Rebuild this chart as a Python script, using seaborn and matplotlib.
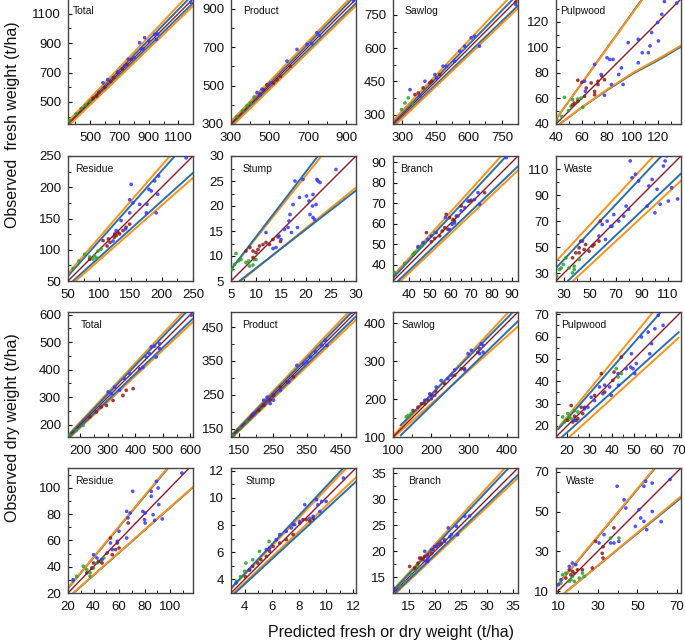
import pandas as pd
import seaborn as sns
import matplotlib.pyplot as plt
from matplotlib.ticker import MultipleLocator

sns.set_theme(style="ticks")
plt.rcParams['font.family'] = ['Liberation Sans', 'DejaVu Sans']

# === data: (predicted, observed) ===
# --- fresh weight ---
total_f_green = [(362, 372), (405, 420), (440, 455), (470, 478), (500, 505)]
total_f_red = [(520, 525), (545, 540), (560, 565), (600, 598), (640, 640), (660, 665), (690, 700),
               (720, 725), (750, 755), (780, 790)]
total_f_blue = [(588, 630), (620, 652), (690, 705), (735, 745), (760, 790), (800, 800), (837, 902),
                (849, 860), (860, 860), (871, 937), (900, 915), (940, 960), (951, 925), (960, 962),
                (1185, 1178)]
total_f_bands = [("blue", [350, 1170], [358, 1200]), ("blue", [350, 1200], [342, 1172]),
                 ("orange", [350, 1143], [367, 1200]), ("orange", [350, 1200], [335, 1152])]

product_f_green = [(330, 338), (360, 368), (383, 394), (400, 408), (420, 440)]
product_f_red = [(450, 455), (470, 478), (487, 504), (521, 513), (539, 530), (557, 548), (608, 600)]
product_f_blue = [(435, 464), (452, 452), (461, 481), (504, 513), (591, 627), (643, 688), (695, 714),
                  (720, 718), (747, 775), (760, 760), (938, 941)]
product_f_bands = [("blue", [300, 930], [308, 950]), ("blue", [300, 950], [292, 928]),
                   ("orange", [300, 915], [315, 950]), ("orange", [300, 950], [284, 915])]

sawlog_f_green = [(297, 323), (312, 353), (327, 376), (345, 350)]
sawlog_f_red = [(357, 391), (372, 398), (394, 421), (424, 443), (432, 451), (469, 481), (812, 808)]
sawlog_f_blue = [(335, 413), (380, 385), (402, 451), (447, 481), (454, 466), (484, 519), (499, 519),
                 (536, 541), (559, 587), (581, 609), (611, 647), (626, 654), (648, 609), (812, 797)]
sawlog_f_bands = [("blue", [260, 798], [268, 820]), ("blue", [260, 820], [252, 790]),
                  ("orange", [260, 775], [275, 820]), ("orange", [260, 820], [245, 778])]

pulp_f_green = [(40.8, 43.3), (44.5, 46), (46.6, 60.9), (49.7, 50.4), (51.8, 53.8), (53, 59),
                (57, 59.6), (59.7, 60.3), (61, 53)]
pulp_f_red = [(53, 55), (54.4, 56.4), (57.1, 57.7), (57.1, 74.3), (60.3, 72.7), (62.4, 61.7),
              (63.7, 68.2), (67.6, 72.2), (70.3, 65.5), (70.3, 63), (72.9, 73.5), (72.9, 70.9),
              (76, 77.5), (78, 74.7)]
pulp_f_blue = [(62.4, 73.5), (63, 65.6), (70.3, 86.7), (75.5, 78.8), (78, 62.5), (80, 92), (82.1, 90.6),
               (83.4, 70.9), (84.7, 90.6), (89.2, 78.8), (91.3, 84), (92.6, 71), (96.6, 103.8),
               (104.5, 106.4), (104.5, 88), (107.6, 95.9), (112.4, 95.9), (113.7, 101.2), (115, 111.7),
               (119.7, 119.6), (120.3, 105.1), (123, 126), (125, 136), (134.7, 134.8)]
pulp_f_bands = [("blue", [40, 107.6], [43.8, 138]),
                ("blue", [43, 60, 80, 100, 120, 138], [40, 52.8, 66.5, 79.3, 90, 100.5]),
                ("orange", [40, 108], [44, 138]),
                ("orange", [43, 60, 80, 100, 120, 138], [40, 53, 67, 80, 91, 101.5])]

residue_f_green = [(58, 70), (67.6, 82), (76.7, 92.7), (84.7, 88.5), (90, 85), (92.7, 90), (95.5, 87),
                   (98, 98), (103, 101)]
residue_f_red = [(84.7, 84.7), (106, 114.7), (112.5, 106), (114.7, 117.3), (117.3, 111.7), (124, 119.7),
                 (124.7, 125.3), (127.3, 122.7), (130, 127.7), (132.7, 125.3), (138, 130.7), (143, 136),
                 (148.7, 141)]
residue_f_blue = [(122, 114), (127, 130.7), (135, 146.7), (142, 133.3), (148.7, 159), (148.7, 180),
                  (151, 204.7), (154, 175), (164.7, 172.7), (175.3, 159), (176.4, 172.7), (179.6, 196.7),
                  (183.3, 194), (188.7, 210), (191, 159), (193.6, 188.7), (195, 218), (239, 247)]
residue_f_bands = [("blue", [50, 221], [58, 250]), ("blue", [58, 250], [50, 223]),
                   ("orange", [50, 213], [62, 250]), ("orange", [62, 250], [50, 215])]

stump_f_green = [(5.2, 7.3), (5.7, 8.3), (6, 10.5), (6.5, 9), (7, 9.3), (8, 8.7), (8.5, 9), (8.7, 8),
                 (9.4, 8.2), (9.7, 9.3), (10, 9.3)]
stump_f_red = [(8, 11), (8.8, 11.7), (9.4, 11), (9.4, 9.7), (10, 10.7), (10.4, 11.3), (10.7, 12),
               (11.4, 12.3), (12, 12.7), (12.7, 12.3), (13.4, 13.3), (14.4, 13.8), (14.9, 12.9)]
stump_f_blue = [(12, 14.7), (13.4, 11.5), (14, 11.7), (14.6, 14), (15, 13.3), (15.7, 15.3), (16.4, 15.7),
                (16.6, 17), (16.8, 18.3), (17.1, 14.7), (17.4, 20.3), (17.8, 25), (18.3, 15.7),
                (18.7, 21.7), (19.4, 25.3), (20.1, 22), (20.6, 21), (20.8, 18.3), (21.3, 20), (21.4, 22.3),
                (21.4, 17.7), (21.7, 17.3), (22, 20.3), (22.2, 25.3), (22.4, 25), (22.8, 24.7), (26, 27.3)]
stump_f_bands = [("orange", [5, 23.1], [7.3, 30]), ("orange", [7, 30], [5, 23.7]),
                 ("blue", [5, 22.4], [7.3, 30]), ("blue", [6.7, 30], [5, 23.1])]

branch_f_green = [(32.8, 36.1), (37.7, 40.5), (41.8, 45), (42.6, 45.8), (44.2, 48.3), (46, 49),
                  (47.4, 50.7), (52.3, 55.6), (61.3, 61.3)]
branch_f_red = [(48.3, 55.6), (50.7, 51.2), (52.3, 52.8), (54.8, 54), (56, 56.4), (57.2, 58), (58, 64.5),
                (58.8, 57.2), (59.6, 62.9), (61.3, 62), (62, 61.3), (62.9, 63.7), (65.3, 68.6), (69.4, 71),
                (70.2, 71.4), (76.7, 75.1)]
branch_f_blue = [(44.2, 48.8), (46.6, 50.7), (49, 52.3), (50.7, 54), (53.1, 55.6), (57.6, 63),
                 (59.6, 57.2), (60.8, 59.7), (62, 60.3), (63.7, 63.7), (65.3, 66.2), (67, 67.8),
                 (68.6, 71), (71.8, 71.8), (73.5, 75.1), (74.3, 69.4), (87.3, 92.2)]
branch_f_bands = [("orange", [32, 84.8], [34.5, 93]), ("orange", [35.7, 93], [32, 86]),
                  ("blue", [32, 87.3], [33.5, 93]), ("blue", [34.4, 93], [32, 88])]

waste_f_green = [(24.5, 27.7), (26.5, 32.8), (28, 34), (29.6, 36.7), (31.6, 41.8), (34, 34),
                 (36.7, 30.3), (38, 35.4), (38, 32.8), (41.8, 40.5)]
waste_f_red = [(36.7, 41.8), (39.2, 45.6), (41.8, 49.5), (41.8, 45.6), (43, 54.6), (45.6, 48.2),
               (46.8, 52), (49.4, 46.9), (52, 50.8), (53.2, 52), (57, 54.6), (58, 70)]
waste_f_blue = [(44.3, 54.6), (57, 58.5), (59.5, 67.4), (62, 55.9), (63.3, 70), (66, 66), (67, 66),
                (68.4, 75), (72.2, 70), (76, 73.8), (77.8, 81.5), (79.8, 79), (81, 116.2), (82.4, 103.3),
                (85, 106), (87.5, 100.8), (94, 81.5), (95.3, 97), (97.8, 102), (100, 76.4), (101.6, 94.4),
                (104, 83), (106.5, 112.3), (107.8, 116.2), (109, 120), (110.3, 85.4), (112.8, 95.6),
                (117.4, 87)]
waste_f_bands = [("orange", [24, 99], [39, 120]), ("orange", [37, 120], [24, 101]),
                 ("blue", [24, 105], [34, 120]), ("blue", [33, 120], [24, 106.5])]

# --- dry weight ---
total_d_green = [(161, 163), (185, 179), (210, 197)]
total_d_red = [(234, 228), (258, 246), (276, 264), (295, 270), (319, 288), (355, 306), (367, 325),
               (392, 331)]
total_d_blue = [(301, 319), (313, 312), (325, 337), (343, 325), (361, 367), (380, 385), (416, 403),
                (428, 409), (440, 446), (452, 458), (458, 483), (470, 486), (476, 446), (488, 495),
                (488, 477), (604, 598)]
total_d_bands = [("orange", [155, 574], [162, 610]), ("orange", [155, 610], [147, 574]),
                 ("blue", [155, 586], [159, 610]), ("blue", [155, 610], [150, 586])]

product_d_green = [(133, 130), (153, 150), (172, 170)]
product_d_red = [(187, 189), (207, 204), (222, 219), (241, 234), (251, 248), (271, 273), (291, 288),
                 (310, 303)]
product_d_blue = [(192, 194), (222, 234), (232, 243), (241, 224), (251, 234), (271, 263), (296, 288),
                  (320, 337), (340, 342), (350, 347), (360, 362), (375, 377), (394, 396), (404, 411),
                  (409, 396), (483, 495)]
product_d_bands = [("orange", [125, 473], [130, 495]), ("orange", [125, 495], [120, 472]),
                   ("blue", [125, 483], [128, 495]), ("blue", [125, 495], [122, 482])]

sawlog_d_green = [(135, 153), (140, 157), (148, 162)]
sawlog_d_red = [(153, 170), (166, 179), (175, 188), (184, 188), (192, 197), (201, 210), (214, 219),
                (236, 241), (263, 263), (280, 280), (289, 280), (324, 324)]
sawlog_d_blue = [(184, 197), (197, 214), (201, 201), (210, 210), (214, 232), (227, 249), (245, 254),
                 (254, 263), (263, 277), (289, 277), (298, 320), (307, 329), (329, 333), (329, 320),
                 (333, 346), (338, 342), (338, 324)]
sawlog_d_bands = [("orange", [100, 405], [103, 430]), ("orange", [103, 430], [100, 392]),
                  ("blue", [120, 417], [131, 430]), ("blue", [120, 430], [104, 406])]

pulp_d_green = [(18, 24), (18.8, 21.7), (19.5, 22.5), (20.3, 25.5), (21, 24), (21.8, 23.2), (23.3, 26.8),
                (24.8, 26.2), (42, 45.6), (42.8, 41.9), (44.3, 43.4)]
pulp_d_red = [(20.3, 22.5), (21.8, 29.1), (22.5, 21.7), (23.3, 24.3), (24, 22.4), (24.8, 23.2),
              (26.3, 28.3), (27, 25.5), (27.8, 28.3), (32.3, 33.6), (35.3, 43.4), (36.8, 35.1),
              (40.5, 40.4), (41, 44.1), (44.3, 50.8)]
pulp_d_blue = [(23.3, 22.5), (27.8, 27.6), (29.3, 28.3), (30.8, 32.8), (32.3, 31.3), (34.5, 37.4),
               (36, 34.4), (36.8, 38.2), (39, 37.4), (39.8, 33.7), (42.8, 43.4), (43, 38.2), (46.5, 45.6),
               (48.5, 46.3), (48.8, 52.3), (49.5, 45.6), (50.3, 43.4), (51, 47.9), (53.3, 59.8),
               (56.3, 62), (57, 52.3), (57.8, 56.8), (59.3, 63.5), (60.8, 69.5), (63, 65)]
pulp_d_bands = [("orange", [15, 58.5], [18, 71]), ("orange", [21, 70], [15, 59.5]),
                ("blue", [16, 62], [18.5, 71]), ("blue", [17.7, 70], [15, 62])]

residue_d_green = [(24, 29), (26.7, 32.7), (32, 40.3), (34.7, 37.8), (37.3, 35.3), (37.3, 32.7),
                   (40, 39), (42.7, 42.8), (45.3, 44), (48, 46.6)]
residue_d_red = [(34.7, 35.3), (38.7, 39), (40, 42.8), (44, 44), (46.7, 42.8), (50.7, 50.4),
                 (53.3, 61.8), (54.7, 49.1), (57.3, 53), (58.7, 58), (60, 54.2), (67.2, 73.2)]
residue_d_blue = [(24, 30.2), (40, 49.1), (42.7, 46.6), (46.7, 45.4), (53.3, 58), (54.7, 53), (58.7, 59.3),
                  (60, 66.9), (66, 82), (66, 61.8), (67, 77.1), (68.8, 80.8), (70.7, 97.3), (78.7, 82),
                  (80, 75.7), (80.5, 73.2), (80.5, 80.8), (85.3, 97.3), (85.3, 93.5), (86.7, 79.5),
                  (88, 75.2), (89.3, 104.9), (90.7, 99.8), (91.2, 87.2), (93.9, 76.3), (109.3, 111.2)]
residue_d_bands = [("blue", [20, 98.5], [23.5, 115]), ("blue", [24.3, 120], [20, 102]),
                   ("orange", [20, 98], [23.9, 115]), ("orange", [24, 120], [20, 102.3])]

stump_d_green = [(3.4, 3.86), (3.7, 4.2), (4, 4.6), (4.1, 5.2), (4.6, 5.45), (5.1, 6.07), (5.8, 6.8)]
stump_d_red = [(4.06, 4.2), (4.36, 4.7), (4.6, 4.96), (4.98, 5.2), (5.2, 5.45), (5.6, 5.7), (5.84, 6.07),
               (6.1, 6.43), (6.58, 6.68), (7.07, 6.93), (7.57, 7.3), (8.06, 8.15), (8.3, 8.4),
               (8.55, 8.4), (8.8, 8.3), (9.05, 8.5)]
stump_d_blue = [(3.37, 3.74), (4.36, 4.7), (5.6, 6.2), (5.84, 6.3), (6.33, 6.93), (6.58, 7.3),
                (7.07, 7.54), (7.44, 7.79), (7.57, 8.03), (7.69, 8.03), (8.06, 8.27), (8.43, 9.5),
                (8.8, 8.5), (9.05, 8.64), (9.3, 9.87), (9.4, 9.5), (9.54, 9.0), (9.67, 9.74), (10, 9.74),
                (11.27, 11.46)]
stump_d_bands = [("orange", [3, 11.5], [3.3, 12.2]), ("orange", [3.2, 12.2], [3, 11.5]),
                 ("blue", [3, 11.27], [3.35, 12.2]), ("blue", [3.3, 12.2], [3, 11.2])]

branch_d_green = [(13.3, 13.2), (14.2, 14.2), (15.5, 15.5), (16.2, 16.4), (16.8, 17.1)]
branch_d_red = [(15.2, 17.1), (16.2, 16.8), (16.8, 17.7), (17.1, 18.7), (17.4, 18.7), (17.8, 18.4),
                (18.1, 19), (18.7, 19.3), (19.4, 19.6), (19.7, 20.3), (20.3, 20.9), (21, 21.3),
                (21.3, 21.6), (21.9, 22.2)]
branch_d_blue = [(12.2, 12.9), (18.1, 20), (18.4, 18.1), (18.7, 18.7), (18.7, 18.1), (19.4, 20.3),
                 (20, 20.9), (20.6, 21.3), (21.9, 21.9), (22.6, 24.5), (22.9, 22.8), (23.2, 23.2),
                 (24.2, 24.8), (24.4, 23.2), (25.8, 26.7), (26.7, 26.8)]
branch_d_bands = [("orange", [12, 33.5], [12.6, 36]), ("orange", [12.6, 36], [12, 34.1]),
                  ("blue", [12, 34.2], [12.4, 36]), ("blue", [12.4, 36], [12, 34.7])]

waste_d_green = [(11.5, 14), (12.3, 18.2), (14, 19), (15.7, 14.9), (16.5, 15.7), (17.3, 17.4),
                 (18.2, 14.9), (20.7, 16.5), (22.3, 19), (23.2, 17.4), (36.5, 36.7), (40.7, 36.7)]
waste_d_red = [(14, 16.5), (15.7, 20.7), (16.5, 18.2), (17.3, 19.9), (18.2, 19), (19.8, 20.7),
               (22.3, 20.7), (27.3, 21.6), (29, 35), (32.3, 29), (32.7, 26.6), (32.7, 32.3), (38.2, 41.8)]
waste_d_blue = [(10.3, 13.2), (11.5, 15.7), (15.7, 22.4), (17.3, 24.1), (19, 23.3), (30.7, 34.2),
                (33.2, 38.4), (36.5, 34.2), (38.2, 34.2), (39.8, 62.8), (40.7, 35), (43.3, 56),
                (44.2, 51.8), (49, 42.6), (50.8, 51), (51.7, 46.8), (53.3, 45.1), (53.3, 62.8),
                (54.2, 65.3), (54.7, 40.9), (57.5, 50.1), (57.5, 64.4), (62, 45), (66.5, 66.2)]
waste_d_bands = [("blue", [9, 59], [12, 72]), ("blue", [13.3, 72], [9, 57]),
                 ("orange", [9, 58.7], [12.3, 72]), ("orange", [13.5, 72], [9, 57.7])]

# axis limits, tick step and title offset per panel (row by row)
panels = [
    ("Total", total_f_green, total_f_red, total_f_blue, total_f_bands, (350, 1200), (350, 1200), 200, 0.04),
    ("Product", product_f_green, product_f_red, product_f_blue, product_f_bands, (300, 950), (300, 950), 200, 0.10),
    ("Sawlog", sawlog_f_green, sawlog_f_red, sawlog_f_blue, sawlog_f_bands, (258, 822), (258, 822), 150, 0.09),
    ("Pulpwood", pulp_f_green, pulp_f_red, pulp_f_blue, pulp_f_bands, (40, 138), (40, 138), 20, 0.03),
    ("Residue", residue_f_green, residue_f_red, residue_f_blue, residue_f_bands, (50, 250), (50, 250), 50, 0.06),
    ("Stump", stump_f_green, stump_f_red, stump_f_blue, stump_f_bands, (5, 30), (5, 30), 5, 0.09),
    ("Branch", branch_f_green, branch_f_red, branch_f_blue, branch_f_bands, (32, 93), (32, 93), 10, 0.06),
    ("Waste", waste_f_green, waste_f_red, waste_f_blue, waste_f_bands, (24, 120), (24, 120), 20, 0.06),
    ("Total", total_d_green, total_d_red, total_d_blue, total_d_bands, (155, 610), (155, 610), 100, 0.10),
    ("Product", product_d_green, product_d_red, product_d_blue, product_d_bands, (125, 495), (125, 495), 100, 0.09),
    ("Sawlog", sawlog_d_green, sawlog_d_red, sawlog_d_blue, sawlog_d_bands, (100, 430), (100, 430), 100, 0.07),
    ("Pulpwood", pulp_d_green, pulp_d_red, pulp_d_blue, pulp_d_bands, (15, 71), (15, 71), 10, 0.04),
    ("Residue", residue_d_green, residue_d_red, residue_d_blue, residue_d_bands, (20, 118), (20, 115), 20, 0.06),
    ("Stump", stump_d_green, stump_d_red, stump_d_blue, stump_d_bands, (3, 12.2), (3, 12.2), 2, 0.12),
    ("Branch", branch_d_green, branch_d_red, branch_d_blue, branch_d_bands, (12, 36), (12, 36), 5, 0.12),
    ("Waste", waste_d_green, waste_d_red, waste_d_blue, waste_d_bands, (9, 72), (9, 72), 20, 0.08),
]
tick_starts = [500, 300, 300, 40, 50, 5, 40, 30, 200, 150, 100, 20, 20, 4, 15, 10]

group_colors = {"g": "#2ca02c", "r": "#8b1a1a", "b": "#3535ff"}
band_colors = {"orange": "#f7941d", "blue": "#2c6ea8"}

W, H = 685, 643
fig = plt.figure(figsize=(W / 100, H / 100), dpi=100)
col_left = [68, 231, 393, 556]
row_top = [-1, 156, 312, 468]
size = 125

for i, (name, green, red, blue, bands, xlim, ylim, step, tx) in enumerate(panels):
    r, c = divmod(i, 4)
    ax = fig.add_axes([col_left[c] / W, 1 - (row_top[r] + size) / H, size / W, size / H])

    for color, bx, by in bands:
        ax.plot(bx, by, color=band_colors[color], lw=1.4, zorder=2)
    ax.plot([xlim[0], xlim[1]], [xlim[0], xlim[1]], color="#8b1a2a", lw=1.0, zorder=3)

    rows = [(x, y, "g") for x, y in green] + [(x, y, "r") for x, y in red] + [(x, y, "b") for x, y in blue]
    df = pd.DataFrame(rows, columns=["pred", "obs", "grp"])
    sns.scatterplot(data=df, x="pred", y="obs", hue="grp", palette=group_colors, s=7,
                    marker="o", linewidth=0, alpha=0.85, legend=False, ax=ax, zorder=4)

    ax.set_xlim(*xlim)
    ax.set_ylim(*ylim)
    start = tick_starts[i]
    ax.set_xticks(list(range(start, int(xlim[1]) + 1, step)))
    ax.set_yticks(list(range(start, int(ylim[1]) + 1, step)))
    ax.xaxis.set_minor_locator(MultipleLocator(step / 2))
    ax.yaxis.set_minor_locator(MultipleLocator(step / 2))
    ax.tick_params(which="major", direction="in", length=3, width=0.8, labelsize=9.5,
                   colors="#111111", pad=5)
    ax.tick_params(which="minor", direction="in", length=2, width=0.7, colors="#222222")
    ax.tick_params(axis="x", pad=6)
    ax.set_xlabel("")
    ax.set_ylabel("")
    for sp in ax.spines.values():
        sp.set_color("#444444")
        sp.set_linewidth(1.0)
    ax.text(tx, 0.9, name, transform=ax.transAxes, fontsize=7.5, va="center", ha="left", color="#111111")

fig.text(13 / W, 1 - 125 / H, "Observed  fresh weight (t/ha)", rotation=90, va="center", ha="center",
         fontsize=11.5, color="#111111")
fig.text(13 / W, 1 - 428 / H, "Observed dry weight (t/ha)", rotation=90, va="center", ha="center",
         fontsize=11.5, color="#111111")
fig.text(391 / W, 1 - 632 / H, "Predicted fresh or dry weight (t/ha)", va="center", ha="center",
         fontsize=11.5, color="#111111")

fig.savefig("out.png", dpi=100)
